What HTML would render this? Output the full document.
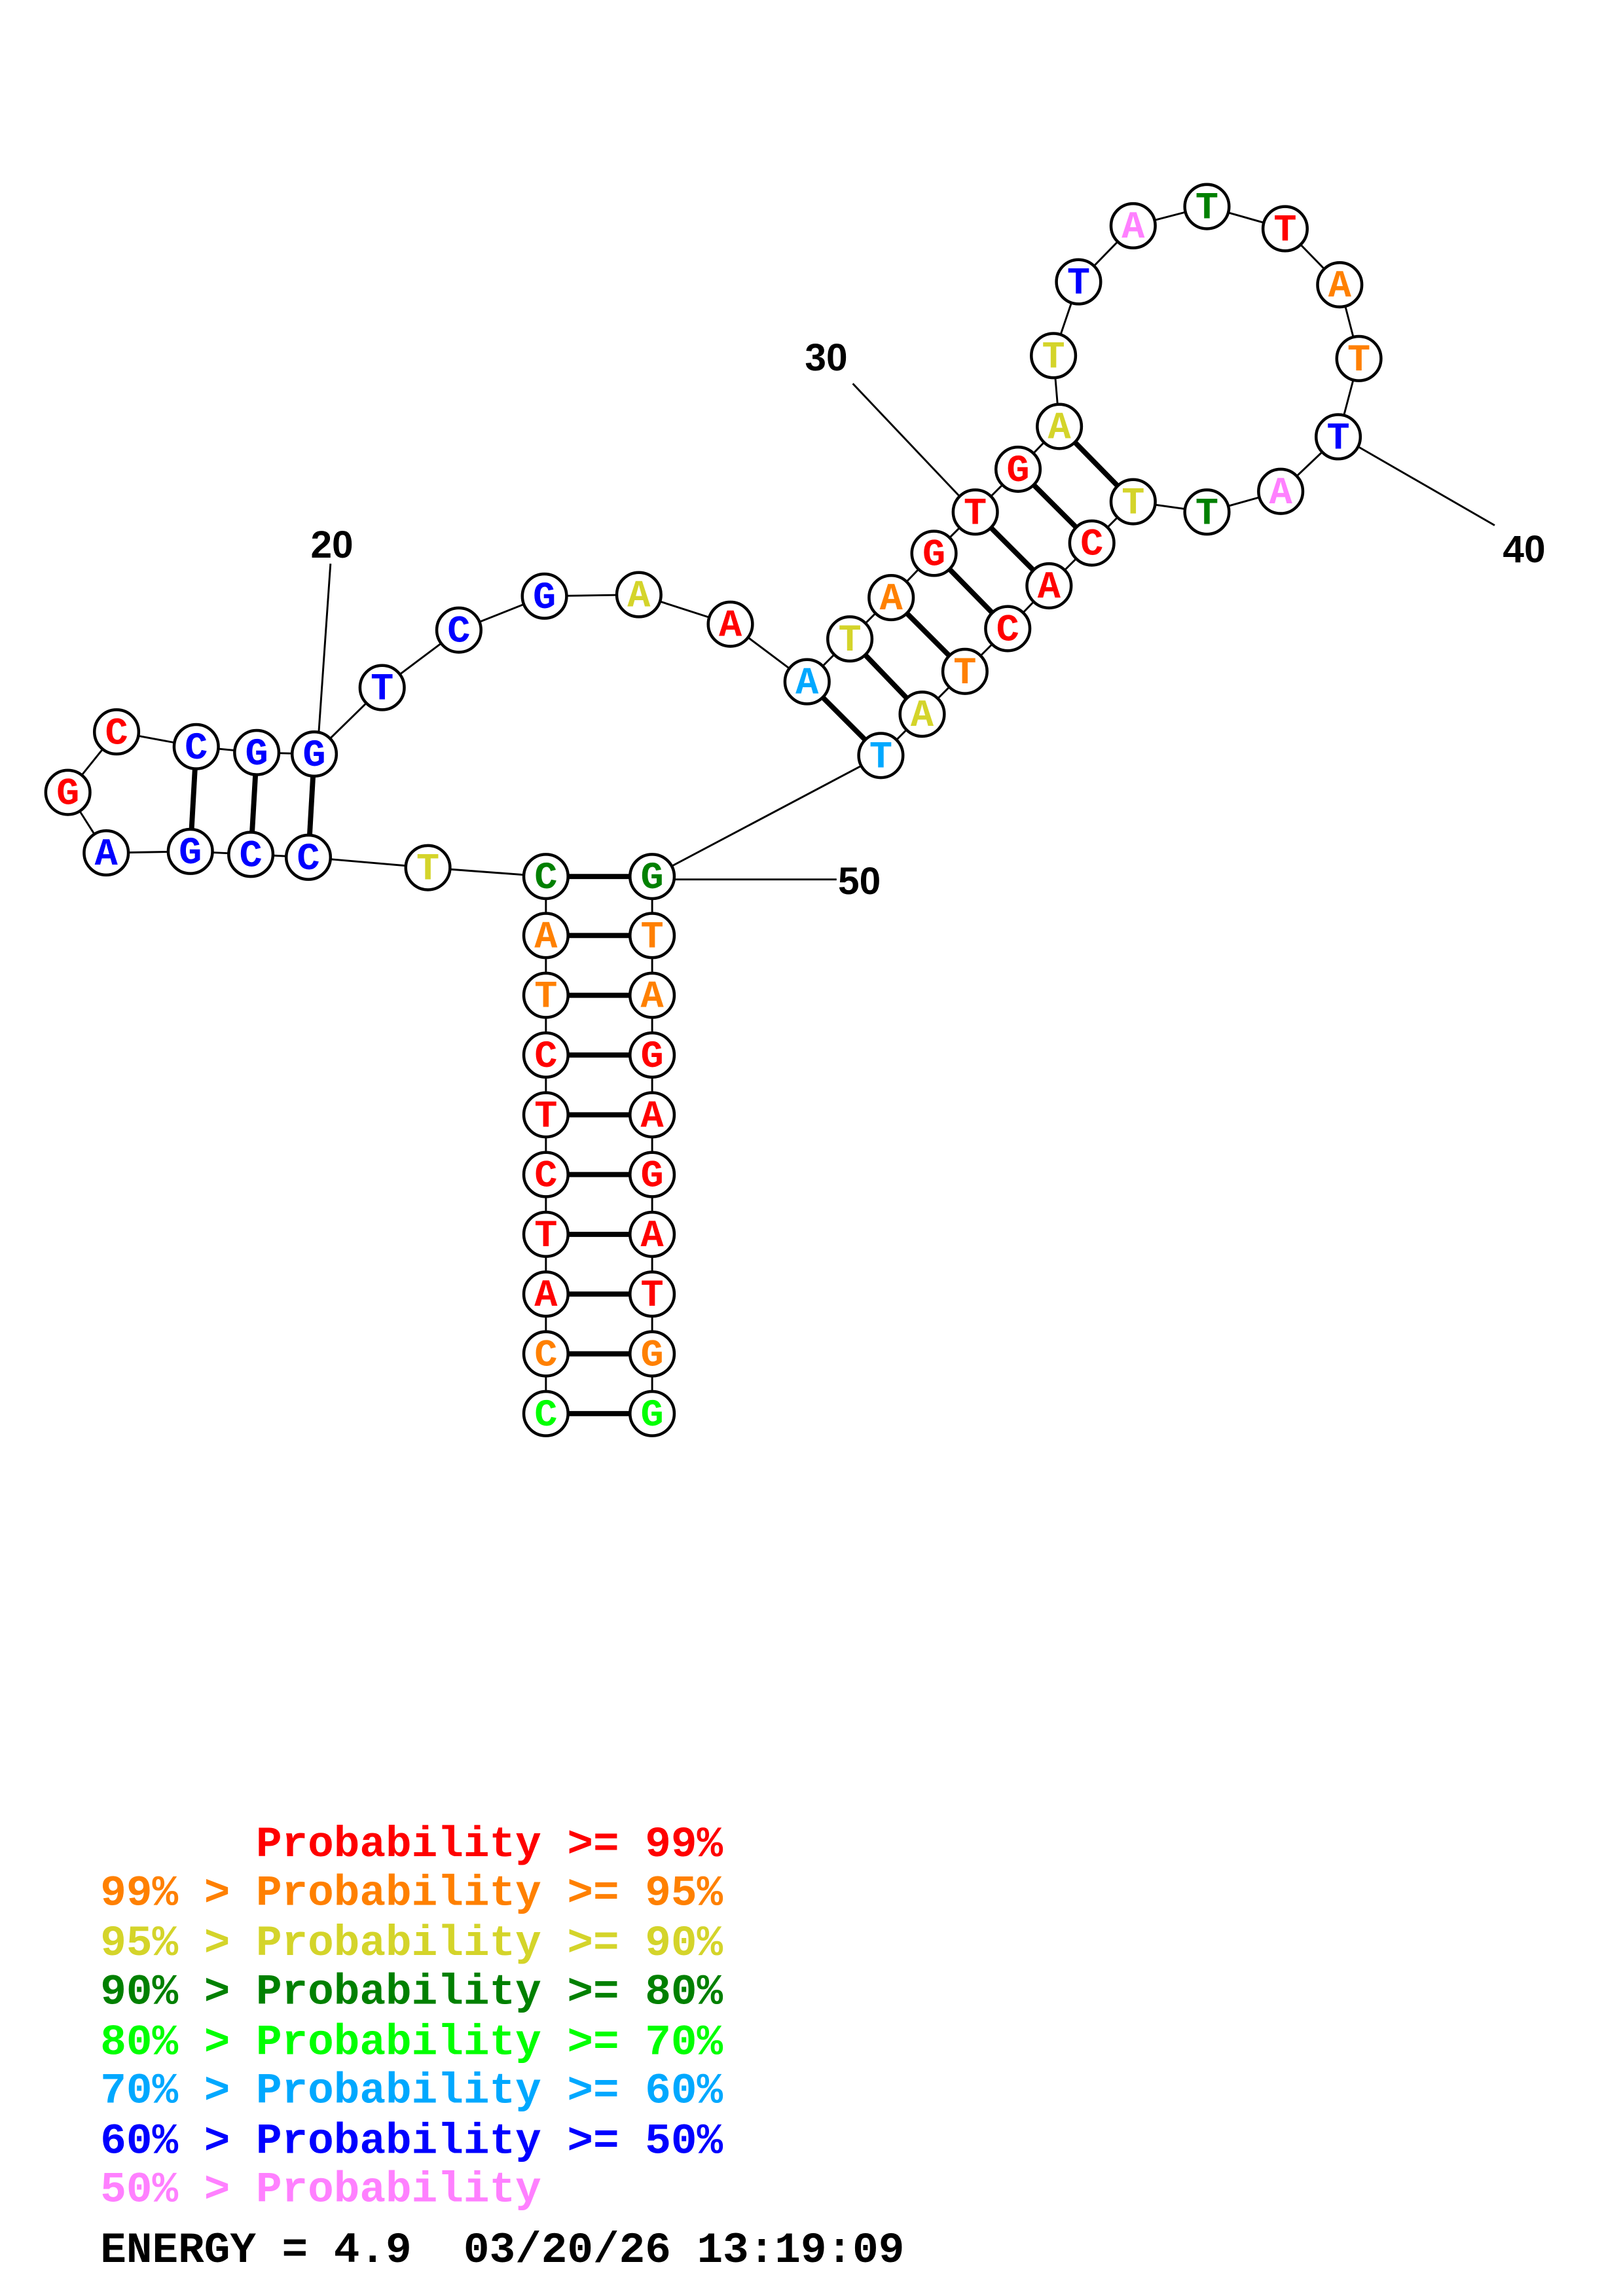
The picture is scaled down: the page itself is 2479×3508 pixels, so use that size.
<!DOCTYPE html>
<html><head><meta charset="utf-8"><style>html,body{margin:0;padding:0;background:#fff}svg{display:block}</style></head>
<body>
<svg xmlns="http://www.w3.org/2000/svg" width="2479" height="3508" viewBox="0 0 1100 1556" preserveAspectRatio="none">
<rect width="1100" height="1556" fill="#fff"/>
<g stroke="#000" stroke-width="1.3" fill="none">
<polyline points="370,958 370,917.5 370,877 370,836.5 370,796 370,755.5 370,715 370,674.5 370,634 370,594 290,588 209,581 170,579 129,577 72,578 46,537 79,496 133,506 174,510 213,511 259,466 311,427 369,404 433,403 495,423 547,462 576,433 604,405 633,375 661,347 690,318 718,289 714,241 731,191 768,153 818,140 871,155 908,193 921,243 907,296 868,333 818,347 768,340 740,368 711,397 683,426 654,455 625,484 597,512 442,594 442,634 442,674.5 442,715 442,755.5 442,796 442,836.5 442,877 442,917.5 442,958"/>
<line x1="224" y1="382" x2="216" y2="497"/>
<line x1="578" y1="260" x2="650" y2="336"/>
<line x1="921" y1="303" x2="1013" y2="356"/>
<line x1="457" y1="596" x2="567" y2="596"/>
</g>
<g stroke="#000" stroke-width="3.5">
<line x1="370" y1="958" x2="442" y2="958"/><line x1="370" y1="917.5" x2="442" y2="917.5"/>
<line x1="370" y1="877" x2="442" y2="877"/><line x1="370" y1="836.5" x2="442" y2="836.5"/>
<line x1="370" y1="796" x2="442" y2="796"/><line x1="370" y1="755.5" x2="442" y2="755.5"/>
<line x1="370" y1="715" x2="442" y2="715"/><line x1="370" y1="674.5" x2="442" y2="674.5"/>
<line x1="370" y1="634" x2="442" y2="634"/><line x1="370" y1="594" x2="442" y2="594"/>
<line x1="209" y1="581" x2="213" y2="511"/><line x1="170" y1="579" x2="174" y2="510"/><line x1="129" y1="577" x2="133" y2="506"/>
<line x1="547" y1="462" x2="597" y2="512"/><line x1="576" y1="433" x2="625" y2="484"/><line x1="604" y1="405" x2="654" y2="455"/>
<line x1="633" y1="375" x2="683" y2="426"/><line x1="661" y1="347" x2="711" y2="397"/><line x1="690" y1="318" x2="740" y2="368"/>
<line x1="718" y1="289" x2="768" y2="340"/>
</g>
<g font-family="'Liberation Sans', sans-serif" font-weight="bold" font-size="26" fill="#000">
<text x="225" y="378" text-anchor="middle">20</text>
<text x="560" y="251" text-anchor="middle">30</text>
<text x="1033" y="381" text-anchor="middle">40</text>
<text x="568" y="606">50</text>
</g>
<g font-family="'Liberation Mono', monospace" font-weight="bold" font-size="29.3">
<text x="68" y="1258" fill="#ff0000" xml:space="preserve">      Probability &gt;= 99%</text>
<text x="68" y="1291" fill="#ff8000" xml:space="preserve">99% &gt; Probability &gt;= 95%</text>
<text x="68" y="1325" fill="#d4d42a" xml:space="preserve">95% &gt; Probability &gt;= 90%</text>
<text x="68" y="1358" fill="#008000" xml:space="preserve">90% &gt; Probability &gt;= 80%</text>
<text x="68" y="1392" fill="#00ff00" xml:space="preserve">80% &gt; Probability &gt;= 70%</text>
<text x="68" y="1425" fill="#00a8ff" xml:space="preserve">70% &gt; Probability &gt;= 60%</text>
<text x="68" y="1459" fill="#0000ff" xml:space="preserve">60% &gt; Probability &gt;= 50%</text>
<text x="68" y="1492" fill="#ff80ff" xml:space="preserve">50% &gt; Probability</text>
<text x="68" y="1533" fill="#000" xml:space="preserve">ENERGY = 4.9  03/20/26 13:19:09</text>
</g>
<g font-family="'Liberation Mono', monospace" font-weight="bold" font-size="26" text-anchor="middle" stroke-width="2">
<g stroke="#000" fill="#fff">
<circle cx="370" cy="958" r="15"/><circle cx="370" cy="917.5" r="15"/><circle cx="370" cy="877" r="15"/><circle cx="370" cy="836.5" r="15"/><circle cx="370" cy="796" r="15"/><circle cx="370" cy="755.5" r="15"/><circle cx="370" cy="715" r="15"/><circle cx="370" cy="674.5" r="15"/><circle cx="370" cy="634" r="15"/><circle cx="370" cy="594" r="15"/>
<circle cx="290" cy="588" r="15"/><circle cx="209" cy="581" r="15"/><circle cx="170" cy="579" r="15"/><circle cx="129" cy="577" r="15"/><circle cx="72" cy="578" r="15"/><circle cx="46" cy="537" r="15"/><circle cx="79" cy="496" r="15"/><circle cx="133" cy="506" r="15"/><circle cx="174" cy="510" r="15"/><circle cx="213" cy="511" r="15"/>
<circle cx="259" cy="466" r="15"/><circle cx="311" cy="427" r="15"/><circle cx="369" cy="404" r="15"/><circle cx="433" cy="403" r="15"/><circle cx="495" cy="423" r="15"/><circle cx="547" cy="462" r="15"/><circle cx="576" cy="433" r="15"/><circle cx="604" cy="405" r="15"/><circle cx="633" cy="375" r="15"/><circle cx="661" cy="347" r="15"/>
<circle cx="690" cy="318" r="15"/><circle cx="718" cy="289" r="15"/><circle cx="714" cy="241" r="15"/><circle cx="731" cy="191" r="15"/><circle cx="768" cy="153" r="15"/><circle cx="818" cy="140" r="15"/><circle cx="871" cy="155" r="15"/><circle cx="908" cy="193" r="15"/><circle cx="921" cy="243" r="15"/><circle cx="907" cy="296" r="15"/>
<circle cx="868" cy="333" r="15"/><circle cx="818" cy="347" r="15"/><circle cx="768" cy="340" r="15"/><circle cx="740" cy="368" r="15"/><circle cx="711" cy="397" r="15"/><circle cx="683" cy="426" r="15"/><circle cx="654" cy="455" r="15"/><circle cx="625" cy="484" r="15"/><circle cx="597" cy="512" r="15"/>
<circle cx="442" cy="594" r="15"/><circle cx="442" cy="634" r="15"/><circle cx="442" cy="674.5" r="15"/><circle cx="442" cy="715" r="15"/><circle cx="442" cy="755.5" r="15"/><circle cx="442" cy="796" r="15"/><circle cx="442" cy="836.5" r="15"/><circle cx="442" cy="877" r="15"/><circle cx="442" cy="917.5" r="15"/><circle cx="442" cy="958" r="15"/>
</g>
<g stroke="none">
<text x="370" y="966" fill="#00ff00">C</text><text x="370" y="925.5" fill="#ff8000">C</text><text x="370" y="885" fill="#ff0000">A</text><text x="370" y="844.5" fill="#ff0000">T</text><text x="370" y="804" fill="#ff0000">C</text><text x="370" y="763.5" fill="#ff0000">T</text><text x="370" y="723" fill="#ff0000">C</text><text x="370" y="682.5" fill="#ff8000">T</text><text x="370" y="642" fill="#ff8000">A</text><text x="370" y="602" fill="#008000">C</text>
<text x="290" y="596" fill="#d4d42a">T</text><text x="209" y="589" fill="#0000ff">C</text><text x="170" y="587" fill="#0000ff">C</text><text x="129" y="585" fill="#0000ff">G</text><text x="72" y="586" fill="#0000ff">A</text><text x="46" y="545" fill="#ff0000">G</text><text x="79" y="504" fill="#ff0000">C</text><text x="133" y="514" fill="#0000ff">C</text><text x="174" y="518" fill="#0000ff">G</text><text x="213" y="519" fill="#0000ff">G</text>
<text x="259" y="474" fill="#0000ff">T</text><text x="311" y="435" fill="#0000ff">C</text><text x="369" y="412" fill="#0000ff">G</text><text x="433" y="411" fill="#d4d42a">A</text><text x="495" y="431" fill="#ff0000">A</text><text x="547" y="470" fill="#00a8ff">A</text><text x="576" y="441" fill="#d4d42a">T</text><text x="604" y="413" fill="#ff8000">A</text><text x="633" y="383" fill="#ff0000">G</text><text x="661" y="355" fill="#ff0000">T</text>
<text x="690" y="326" fill="#ff0000">G</text><text x="718" y="297" fill="#d4d42a">A</text><text x="714" y="249" fill="#d4d42a">T</text><text x="731" y="199" fill="#0000ff">T</text><text x="768" y="161" fill="#ff80ff">A</text><text x="818" y="148" fill="#008000">T</text><text x="871" y="163" fill="#ff0000">T</text><text x="908" y="201" fill="#ff8000">A</text><text x="921" y="251" fill="#ff8000">T</text><text x="907" y="304" fill="#0000ff">T</text>
<text x="868" y="341" fill="#ff80ff">A</text><text x="818" y="355" fill="#008000">T</text><text x="768" y="348" fill="#d4d42a">T</text><text x="740" y="376" fill="#ff0000">C</text><text x="711" y="405" fill="#ff0000">A</text><text x="683" y="434" fill="#ff0000">C</text><text x="654" y="463" fill="#ff8000">T</text><text x="625" y="492" fill="#d4d42a">A</text><text x="597" y="520" fill="#00a8ff">T</text>
<text x="442" y="602" fill="#008000">G</text><text x="442" y="642" fill="#ff8000">T</text><text x="442" y="682.5" fill="#ff8000">A</text><text x="442" y="723" fill="#ff0000">G</text><text x="442" y="763.5" fill="#ff0000">A</text><text x="442" y="804" fill="#ff0000">G</text><text x="442" y="844.5" fill="#ff0000">A</text><text x="442" y="885" fill="#ff0000">T</text><text x="442" y="925.5" fill="#ff8000">G</text><text x="442" y="966" fill="#00ff00">G</text>
</g>
</g>
</svg>
</body></html>
